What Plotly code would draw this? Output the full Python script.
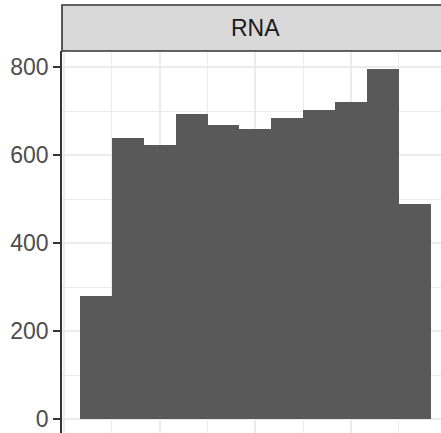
import plotly.graph_objects as go

# histogram bins (index units) and counts
bin_index = list(range(11))
counts = [279, 640, 622, 693, 668, 659, 684, 702, 722, 797, 489]
y_ticks = [0, 200, 400, 600, 800]
facet_label = "RNA"

fig = go.Figure()
fig.add_trace(go.Bar(
    x=[i + 0.5 for i in bin_index],
    y=counts,
    width=1.0,
    marker=dict(color="#595959", line=dict(width=0)),
    showlegend=False,
))

W, H = 441, 433
L, T = 62, 51
plot_h = H - T

fig.update_layout(
    width=W, height=H,
    margin=dict(l=L, r=0, t=T, b=0, pad=0, autoexpand=False),
    paper_bgcolor="white", plot_bgcolor="white",
    bargap=0,
    font=dict(family="Liberation Sans, Arial, sans-serif"),
    xaxis=dict(
        range=[-0.564, 11.317],
        automargin=False,
        showticklabels=False, ticks="",
        tick0=2.5, dtick=3,
        showgrid=True, gridcolor="#EBEBEB", gridwidth=1.8,
        minor=dict(tick0=1, dtick=3, showgrid=True, gridcolor="#EBEBEB", gridwidth=0.9),
        zeroline=False, showline=False,
    ),
    yaxis=dict(
        range=[-31.9, 836.9],
        automargin=False,
        tickmode="array", tickvals=y_ticks, ticktext=[str(v) for v in y_ticks],
        ticks="outside", ticklen=7, tickwidth=2, tickcolor="#333333",
        tickfont=dict(size=23, color="#4D4D4D"),
        showgrid=True, gridcolor="#EBEBEB", gridwidth=1.8,
        minor=dict(tickvals=[100, 300, 500, 700], showgrid=True, gridcolor="#EBEBEB", gridwidth=0.9, ticks=""),
        zeroline=False,
        showline=True, linecolor="#333333", linewidth=1.6,
    ),
    shapes=[
        dict(type="rect", xref="paper", yref="paper",
             x0=0, x1=1.1, y0=1, y1=1 + 46 / plot_h,
             fillcolor="#D9D9D9", line=dict(color="#333333", width=1.6), layer="above"),
    ],
    annotations=[
        dict(text=facet_label, xref="x", yref="paper", x=5.5, y=1 + 23 / plot_h,
             showarrow=False, font=dict(size=23, color="#1A1A1A"),
             xanchor="center", yanchor="middle"),
    ],
)

fig.write_html(
    "out.html",
    config={"displayModeBar": False},
    post_script="document.body.style.margin='0';document.body.style.overflow='hidden';",
)
